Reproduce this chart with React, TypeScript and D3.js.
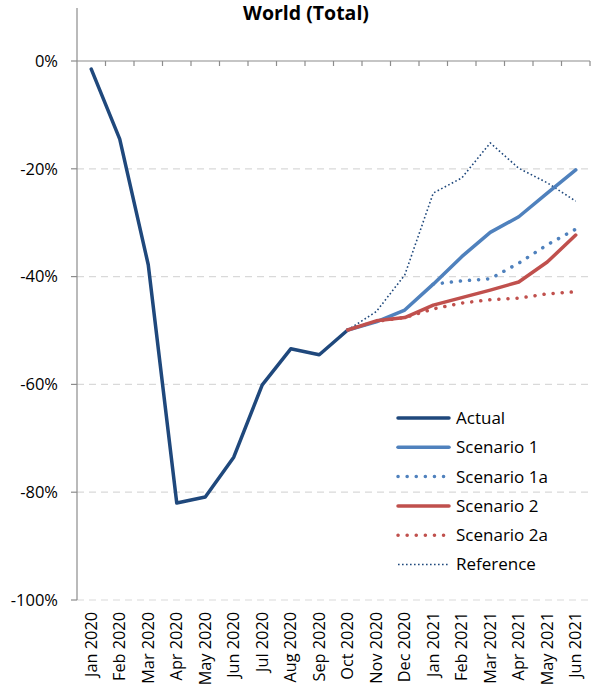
import React from "react";
import * as d3 from "d3";

const categories = ["Jan 2020","Feb 2020","Mar 2020","Apr 2020","May 2020","Jun 2020","Jul 2020","Aug 2020","Sep 2020","Oct 2020","Nov 2020","Dec 2020","Jan 2021","Feb 2021","Mar 2021","Apr 2021","May 2021","Jun 2021"];
const actual: (number|null)[] = [-1.5,-14.5,-37.8,-82,-80.9,-73.5,-60.1,-53.4,-54.5,-49.9,null,null,null,null,null,null,null,null];
const scenario1: (number|null)[] = [null,null,null,null,null,null,null,null,null,-49.9,-48.4,-46.2,-41.4,-36.3,-31.8,-28.9,-24.5,-20.2];
const scenario1a: (number|null)[] = [null,null,null,null,null,null,null,null,null,null,null,null,-41.4,-40.8,-40.4,-37.5,-34.1,-31.2];
const scenario2: (number|null)[] = [null,null,null,null,null,null,null,null,null,-49.9,-48.2,-47.6,-45.3,-43.9,-42.5,-41.0,-37.3,-32.3];
const scenario2a: (number|null)[] = [null,null,null,null,null,null,null,null,null,-49.9,-48.3,-47.6,-46.0,-44.9,-44.3,-44.0,-43.2,-42.8];
const reference: (number|null)[] = [null,null,null,null,null,null,null,null,null,-49.9,-46.5,-39.7,-24.5,-21.7,-15.2,-19.9,-22.6,-26.0];
const yTicks = [0,-20,-40,-60,-80,-100];

const FONT = "'Open Sans', sans-serif";

const series = [
  { name: "Actual", data: actual, color: "#1F487C", width: 3.5, dash: null as string|null, cap: "round" },
  { name: "Scenario 1", data: scenario1, color: "#4F81BD", width: 3.5, dash: null, cap: "round" },
  { name: "Scenario 1a", data: scenario1a, color: "#4F81BD", width: 3.5, dash: "0.1 9", cap: "round" },
  { name: "Scenario 2", data: scenario2, color: "#C0504D", width: 3.5, dash: null, cap: "round" },
  { name: "Scenario 2a", data: scenario2a, color: "#C0504D", width: 3.5, dash: "0.1 9", cap: "round" },
  { name: "Reference", data: reference, color: "#1F487C", width: 1.6, dash: "1.6 2.4", cap: "butt" },
];

export default function App() {
  const W = 593, H = 697;
  const left = 77, right = 590, top = 61, bottom = 600;
  const x = d3.scaleBand<string>().domain(categories).range([left, right]);
  const y = d3.scaleLinear().domain([-100, 0]).range([bottom, top]);
  const cx = (c: string) => (x(c) as number) + x.bandwidth() / 2;

  const drawOrder = [5, 2, 4, 0, 1, 3];

  return (
    <svg width={W} height={H} style={{ position: "absolute", left: 0, top: 0, fontFamily: FONT }}>
      <text x={306} y={20} textAnchor="middle" fontSize={19.5} fontWeight={700} fill="#000">World (Total)</text>
      {yTicks.filter(t => t !== 0).map(t => (
        <line key={t} x1={left} x2={right} y1={y(t)} y2={y(t)} stroke="#D9D9D9" strokeWidth={1.2} strokeDasharray="7 5" />
      ))}
      <line x1={left} x2={left} y1={8} y2={bottom} stroke="#8C8C8C" strokeWidth={1.2} />
      {yTicks.map(t => (
        <g key={t}>
          <line x1={left - 6} x2={left} y1={y(t)} y2={y(t)} stroke="#8C8C8C" strokeWidth={1.2} />
          <text x={58} y={y(t)} dy="0.35em" textAnchor="end" fontSize={16.5} fill="#000">{t}%</text>
        </g>
      ))}
      <line x1={left} x2={right} y1={y(0)} y2={y(0)} stroke="#8C8C8C" strokeWidth={1.2} />
      {categories.map(c => (
        <line key={c} x1={(x(c) as number) + x.bandwidth()} x2={(x(c) as number) + x.bandwidth()} y1={y(0)} y2={y(0) + 5} stroke="#8C8C8C" strokeWidth={1.2} />
      ))}
      {categories.map(c => (
        <text key={c} transform={`translate(${cx(c)},${612}) rotate(-90)`} dy="0.35em" textAnchor="end" fontSize={16.3} fill="#000">{c}</text>
      ))}
      {drawOrder.map(i => {
        const s = series[i];
        const line = d3.line<number|null>()
          .defined(d => d !== null)
          .x((_, j) => cx(categories[j]))
          .y(d => y(d as number));
        return (
          <path key={s.name} d={line(s.data) || ""} fill="none" stroke={s.color} strokeWidth={s.width}
            strokeDasharray={s.dash || undefined} strokeLinecap={s.cap as any} strokeLinejoin="round" />
        );
      })}
      {series.map((s, i) => {
        const ly = 418 + i * 29.3;
        return (
          <g key={s.name}>
            <line x1={398} x2={449} y1={ly} y2={ly} stroke={s.color} strokeWidth={s.width}
              strokeDasharray={s.dash || undefined} strokeLinecap={s.cap as any} />
            <text x={456} y={ly} dy="0.35em" fontSize={17} fill="#000">{s.name}</text>
          </g>
        );
      })}
    </svg>
  );
}
